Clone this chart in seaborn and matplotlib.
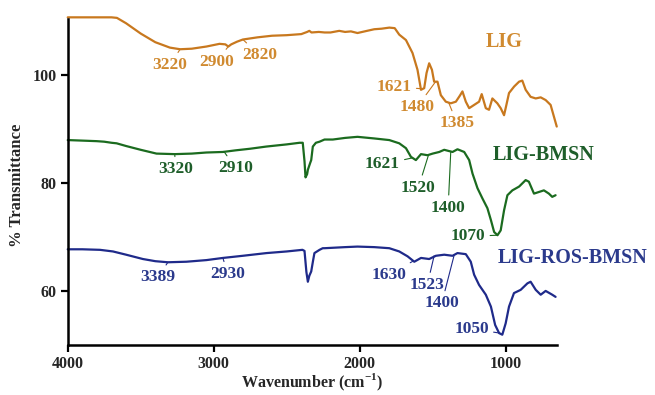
import matplotlib
matplotlib.use("Agg")
import matplotlib.pyplot as plt
import seaborn as sns
import pandas as pd

# ---------------- data ----------------
lig_wn = [4000, 3900, 3800, 3700, 3663, 3600, 3500, 3400, 3300, 3230, 3150, 3050, 2960, 2920, 2900,
          2880, 2840, 2800, 2700, 2600, 2500, 2400, 2360, 2345, 2330, 2280, 2240, 2200, 2140, 2100,
          2060, 2015, 1950, 1900, 1850, 1797, 1760, 1729, 1683, 1638, 1604, 1580, 1558, 1542, 1524,
          1505, 1490, 1467, 1444, 1410, 1376, 1341, 1314, 1296, 1273, 1250, 1216, 1182, 1164, 1136,
          1114, 1091, 1057, 1034, 1011, 995, 977, 942, 908, 886, 863, 829, 794, 760, 726, 692, 669, 650]
lig_t = [110.6, 110.6, 110.6, 110.6, 110.5, 109.5, 107.6, 106.0, 105.0, 104.7, 104.8, 105.2, 105.7, 105.6, 105.2,
         105.6, 106.1, 106.5, 106.9, 107.2, 107.3, 107.5, 107.9, 108.1, 107.8, 107.9, 107.8, 107.8, 108.1, 107.9,
         108.0, 107.7, 108.1, 108.4, 108.5, 108.7, 108.6, 107.4, 106.4, 104.0, 100.9, 97.2, 97.5, 100.3, 102.1,
         100.9, 98.7, 98.7, 96.2, 95.0, 94.7, 95.0, 96.1, 96.9, 95.0, 93.8, 94.4, 95.0, 96.4, 93.8,
         93.5, 95.6, 94.7, 93.8, 92.5, 94.4, 96.6, 97.8, 98.7, 98.9, 97.2, 95.9, 95.6, 95.8, 95.3, 94.4, 92.2, 90.4]

bmsn_wn = [4000, 3900, 3802, 3750, 3700, 3665, 3600, 3500, 3392, 3267, 3150, 3050, 2937, 2850, 2750,
           2640, 2500, 2412, 2390, 2378, 2371, 2360, 2355, 2340, 2332, 2321, 2300, 2275, 2241, 2184,
           2100, 2015, 1900, 1797, 1729, 1683, 1649, 1615, 1580, 1535, 1500, 1455, 1421, 1364, 1330,
           1284, 1250, 1227, 1193, 1159, 1125, 1101, 1079, 1056, 1034, 1011, 988, 954, 908, 863,
           841, 806, 772, 738, 704, 681, 658]
bmsn_t = [87.9, 87.8, 87.7, 87.6, 87.4, 87.3, 86.8, 86.1, 85.4, 85.3, 85.4, 85.6, 85.7, 86.0, 86.3,
          86.7, 87.1, 87.4, 87.4, 84.0, 81.0, 81.6, 82.4, 83.6, 84.2, 86.7, 87.4, 87.6, 88.0, 88.0,
          88.3, 88.5, 88.2, 87.9, 87.3, 86.4, 84.8, 84.2, 85.3, 85.1, 85.4, 85.7, 86.1, 85.7, 86.2,
          85.7, 84.2, 81.7, 79.0, 77.1, 75.3, 73.1, 70.9, 70.3, 71.2, 74.9, 77.7, 78.6, 79.3, 80.5,
          80.2, 78.0, 78.3, 78.6, 78.0, 77.4, 77.7]

ros_wn = [4000, 3900, 3779, 3690, 3600, 3485, 3400, 3314, 3187, 3050, 2937, 2800, 2638, 2500, 2392,
          2378, 2365, 2355, 2345, 2332, 2320, 2310, 2275, 2253, 2241, 2100, 2015, 1900, 1797, 1729,
          1672, 1626, 1580, 1524, 1478, 1421, 1364, 1330, 1273, 1239, 1216, 1182, 1136, 1101, 1072,
          1045, 1023, 1000, 977, 943, 897, 851, 829, 794, 760, 726, 681, 658]
ros_t = [67.7, 67.7, 67.6, 67.3, 66.7, 65.9, 65.5, 65.3, 65.4, 65.7, 66.1, 66.5, 67.0, 67.3, 67.6,
         67.4, 63.5, 61.7, 62.8, 63.6, 65.5, 67.0, 67.6, 67.9, 67.9, 68.1, 68.2, 68.1, 67.9, 67.3,
         66.4, 65.4, 66.1, 65.9, 66.5, 66.7, 66.5, 67.0, 66.8, 65.4, 63.0, 61.1, 59.3, 57.1, 53.7,
         52.2, 51.9, 54.0, 57.1, 59.6, 60.2, 61.4, 61.7, 60.2, 59.3, 60.0, 59.3, 58.9]

series_names = ["LIG", "LIG-BMSN", "LIG-ROS-BMSN"]
series_title_pos = [(1010, 106.1), (737, 85.1), (539, 66.1)]

# peak annotations: (label, peak wn, peak value, text wn, text value)
lig_peaks = [("3220", 3230, 104.7, 3300, 101.8), ("2900", 2900, 105.2, 2982, 102.4),
             ("2820", 2800, 106.5, 2686, 103.6), ("1621", 1580, 97.4, 1763, 97.8),
             ("1480", 1480, 98.7, 1607, 94.0), ("1385", 1390, 94.8, 1333, 91.0)]
bmsn_peaks = [("3320", 3267, 85.3, 3260, 82.5), ("2910", 2930, 85.8, 2850, 82.7),
              ("1621", 1640, 84.6, 1844, 83.4), ("1520", 1529, 85.1, 1598, 79.1),
              ("1400", 1376, 85.8, 1394, 75.4), ("1070", 1056, 70.3, 1257, 70.1)]
ros_peaks = [("3389", 3314, 65.3, 3383, 62.5), ("2930", 2937, 66.1, 2904, 63.1),
             ("1630", 1635, 65.5, 1798, 63.0), ("1523", 1490, 66.5, 1537, 61.1),
             ("1400", 1353, 66.6, 1438, 57.7), ("1050", 1040, 52.2, 1233, 53.0)]

line_colors = ["#C8781E", "#1B6B1F", "#1F2A8A"]
text_colors = ["#D08A30", "#1E5E2A", "#2B3A8C"]

# ---------------- plot ----------------
sns.set_style("ticks")
plt.rcParams["font.family"] = ["Liberation Serif", "DejaVu Serif"]
plt.rcParams["font.weight"] = "bold"
plt.rcParams["mathtext.fontset"] = "custom"
plt.rcParams["mathtext.rm"] = "Liberation Serif:bold"
plt.rcParams["mathtext.bf"] = "Liberation Serif:bold"

fig = plt.figure(figsize=(6.55, 3.95), dpi=100)
ax = fig.add_axes([0.1034, 0.1266, 0.7466, 0.8254])

frames = []
for name, wn, t in zip(series_names, [lig_wn, bmsn_wn, ros_wn], [lig_t, bmsn_t, ros_t]):
    frames.append(pd.DataFrame({"wn": wn, "T": t, "sample": name}))
df = pd.concat(frames, ignore_index=True)

sns.lineplot(data=df, x="wn", y="T", hue="sample", palette=dict(zip(series_names, line_colors)),
             sort=False, estimator=None, linewidth=1.6, legend=False, ax=ax)
for ln in ax.lines:
    ln.set_clip_on(False)

ax.set_xlim(4000, 650)
ax.set_ylim(50, 110.3)
ax.set_xticks([4000, 3000, 2000, 1000])
ax.set_yticks([60, 80, 100])
ax.tick_params(axis="both", length=5, width=1.6, labelsize=11.5, color="black", pad=3)
for lab in ax.get_xticklabels() + ax.get_yticklabels():
    lab.set_fontweight("bold")
sns.despine(ax=ax)
for s in ["left", "bottom"]:
    ax.spines[s].set_linewidth(1.8)
    ax.spines[s].set_color("black")

ax.set_xlabel("Wavenumber (cm$^{-1}$)", fontsize=11.5, fontweight="bold")
ax.set_ylabel("% Transmittance", fontsize=12, fontweight="bold")
ax.xaxis.set_label_coords(0.5, -0.083)
ax.yaxis.set_label_coords(-0.088, 0.49)

for (name, (tx, ty)), tc in zip(zip(series_names, series_title_pos), text_colors):
    ax.text(tx, ty, name, color=tc, fontsize=14.5, fontweight="bold", ha="center", va="center", clip_on=False)

for peaks, tc, lc in zip([lig_peaks, bmsn_peaks, ros_peaks], text_colors, line_colors):
    for lab, px, py, tx, ty in peaks:
        ax.annotate(lab, xy=(px, py), xytext=(tx, ty), color=tc, fontsize=12.5, fontweight="bold",
                    ha="center", va="center",
                    arrowprops=dict(arrowstyle="-", color=lc, lw=0.8, shrinkA=1, shrinkB=0))

fig.savefig("out.png", dpi=100)
